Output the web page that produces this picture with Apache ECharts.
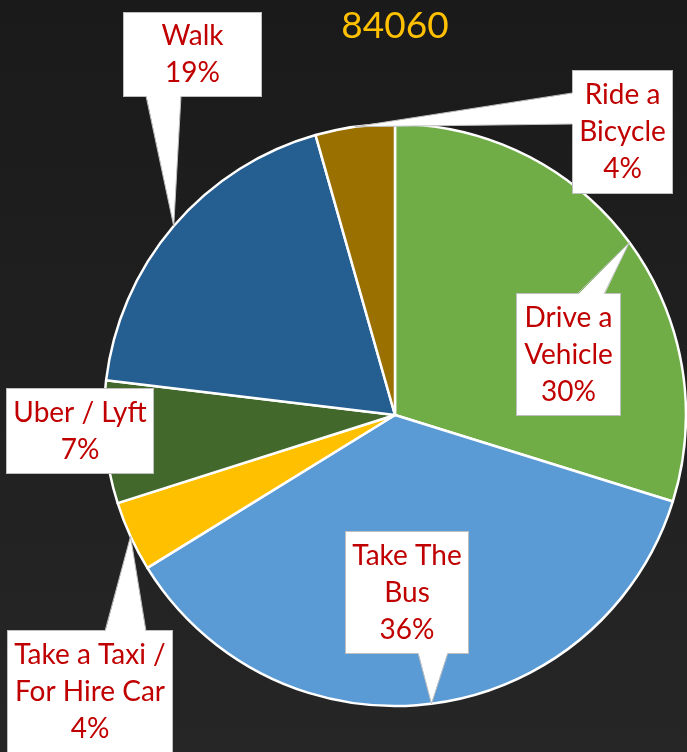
<!DOCTYPE html>
<html>
<head>
<meta charset="utf-8">
<script src="https://cdn.jsdelivr.net/npm/echarts@6/dist/echarts.min.js"></script>
<style>
html,body{margin:0;padding:0;background:#1f1f1f;}
#chart{width:687px;height:752px;}
</style>
</head>
<body>
<div id="chart"></div>
<script>
// ---- data ----
var titleText = '84060';
var categories = ['Drive a\nVehicle', 'Take The\nBus', 'Take a Taxi /\nFor Hire Car', 'Uber / Lyft', 'Walk', 'Ride a\nBicycle'];
var values = [29.8, 36.4, 3.9, 6.8, 18.7, 4.4];
var colors = ['#70AD47', '#5B9BD5', '#FFC000', '#43682B', '#255E91', '#9A7000'];

// ---- layout (styles / positions, not data) ----
var CX = 395, CY = 415, R = 291;
var boxes = [
  {cx: 568.5, cy: 354.5, w: 105, h: 121, side: 'top', a: 577, b: 604},
  {cx: 407, cy: 592.5, w: 124, h: 121, side: 'bottom', a: 418, b: 448},
  {cx: 90, cy: 691.5, w: 166, h: 121, side: 'top', a: 105, b: 146},
  {cx: 80, cy: 431, w: 148, h: 84, side: null},
  {cx: 192.5, cy: 54.5, w: 139, h: 83, side: 'bottom', a: 146, b: 181},
  {cx: 622.5, cy: 132, w: 101, h: 122, side: 'left', a: 93, b: 124}
];
var LH = 37;
var SHIFT = 3;

var total = values.reduce(function (s, v) { return s + v; }, 0);
var data = categories.map(function (name, i) {
  var lines = name.split('\n').length + 1;
  var padV = Math.max(0, (boxes[i].h - lines * LH) / 2);
  return {
    name: name,
    value: values[i],
    itemStyle: {color: colors[i]},
    label: {width: boxes[i].w - 2, padding: [padV + SHIFT, 0, padV - SHIFT, 0]}
  };
});

// wedge callout pointers: tip at slice middle on the pie edge
var graphics = [];
var cum = 0;
values.forEach(function (v, i) {
  var mid = (cum + v / 2) / total * 2 * Math.PI;
  cum += v;
  var bx = boxes[i];
  if (!bx.side) return;
  var tip = [CX + R * Math.sin(mid), CY - R * Math.cos(mid)];
  var p1, p2, q1, q2;
  if (bx.side === 'top') {
    var yt = bx.cy - bx.h / 2;
    p1 = [bx.a, yt]; p2 = [bx.b, yt]; q1 = [bx.a, yt + 1.5]; q2 = [bx.b, yt + 1.5];
  } else if (bx.side === 'bottom') {
    var yb = bx.cy + bx.h / 2;
    p1 = [bx.a, yb]; p2 = [bx.b, yb]; q1 = [bx.a, yb - 1.5]; q2 = [bx.b, yb - 1.5];
  } else {
    var xl = bx.cx - bx.w / 2;
    p1 = [xl, bx.a]; p2 = [xl, bx.b]; q1 = [xl + 1.5, bx.a]; q2 = [xl + 1.5, bx.b];
  }
  graphics.push({
    type: 'polygon', z: 100, silent: true,
    shape: {points: [q1, tip, q2]},
    style: {fill: '#ffffff', stroke: null}
  });
  graphics.push({
    type: 'polyline', z: 101, silent: true,
    shape: {points: [p1, tip, p2]},
    style: {stroke: '#bfbfbf', lineWidth: 1, fill: null}
  });
});

var chart = echarts.init(document.getElementById('chart'), null, {renderer: 'canvas'});
chart.setOption({
  animation: false,
  backgroundColor: {
    type: 'linear', x: 0, y: 0, x2: 0, y2: 1,
    colorStops: [{offset: 0, color: '#1a1a1a'}, {offset: 1, color: '#262626'}]
  },
  title: {
    text: titleText,
    left: 395,
    top: 8,
    padding: 0,
    textAlign: 'center',
    textStyle: {color: '#FFC000', fontFamily: 'Lato', fontSize: 37, fontWeight: 'normal'}
  },
  series: [{
    type: 'pie',
    center: [CX, CY],
    radius: R,
    startAngle: 90,
    clockwise: true,
    avoidLabelOverlap: false,
    percentPrecision: 0,
    silent: true,
    data: data,
    itemStyle: {borderColor: '#ffffff', borderWidth: 2.5},
    label: {
      show: true,
      position: 'outside',
      formatter: '{b}\n{d}%',
      color: '#C00000',
      fontFamily: 'Lato',
      fontSize: 28,
      lineHeight: LH,
      align: 'center',
      backgroundColor: '#ffffff',
      borderColor: '#bfbfbf',
      borderWidth: 1
    },
    labelLine: {show: false},
    labelLayout: function (params) {
      var b = boxes[params.dataIndex];
      return {x: b.cx, y: b.cy, align: 'center', verticalAlign: 'middle'};
    }
  }],
  graphic: graphics
});
</script>
</body>
</html>
